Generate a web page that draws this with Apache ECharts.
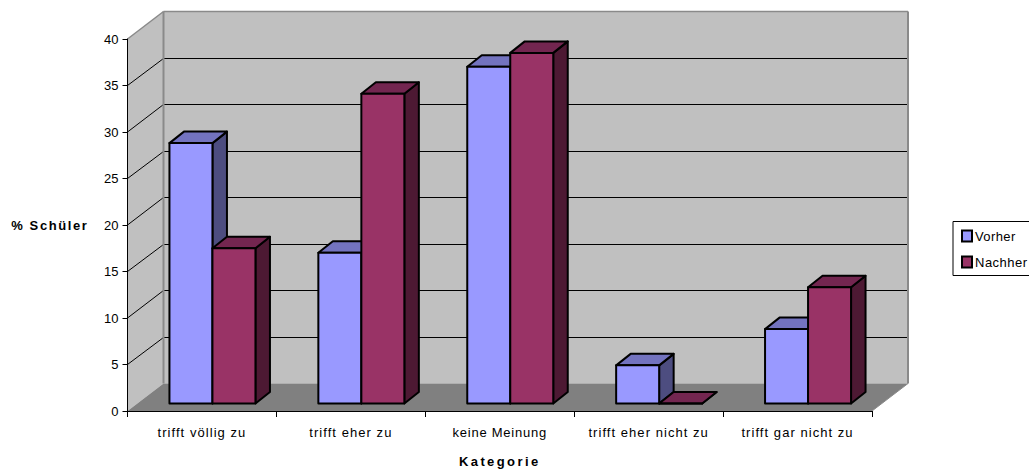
<!DOCTYPE html>
<html>
<head>
<meta charset="utf-8">
<style>
html, body { margin: 0; padding: 0; background: #fff; overflow: hidden; }
#chart { width: 1029px; height: 473px; }
</style>
<script src="https://cdn.jsdelivr.net/npm/echarts@6/dist/echarts.min.js"></script>
</head>
<body>
<div id="chart"></div>
<script>
const categories = ['trifft völlig zu', 'trifft eher zu', 'keine Meinung', 'trifft eher nicht zu', 'trifft gar nicht zu'];
const vorher = [28, 16.2, 36.2, 4.1, 8];
const nachher = [16.7, 33.3, 37.7, 0, 12.5];
const valueTicks = [0, 5, 10, 15, 20, 25, 30, 35, 40];

// Depth of the box around the plot, and of the columns inside it (pixels).
const BOX_DX = 36, BOX_DY = -27.5;
const BAR_SHIFT_X = 10.5, BAR_SHIFT_Y = -7.5;
const BAR_DX = 14.5, BAR_DY = -11.5;
const BAR_W = 43;

const chart = echarts.init(document.getElementById('chart'), null, { renderer: 'svg' });

function poly(points, fill, stroke, lineWidth) {
  return {
    type: 'polygon',
    shape: { points },
    style: { fill, stroke: stroke || 'none', lineWidth: lineWidth || 0, lineJoin: 'round' }
  };
}

function line(a, b, stroke, lineWidth) {
  return {
    type: 'line',
    shape: { x1: a[0], y1: a[1], x2: b[0], y2: b[1] },
    style: { stroke, lineWidth }
  };
}

// Keeps one-pixel rules on whole pixel rows.
function crisp(v) {
  return Math.round(v) + 0.5;
}

// Side wall, back wall, floor and the gridlines running across them.
function renderBox(params, api) {
  const band = api.size([1, 0])[0];
  const left = api.coord([0, 0])[0] - band / 2;
  const right = left + band * categories.length;
  const y0 = api.coord([0, valueTicks[0]])[1];
  const yTop = api.coord([0, valueTicks[valueTicks.length - 1]])[1];
  const wall = '#C0C0C0', floor = '#808080', edge = '#8A8A8A';
  const children = [
    poly([[left, yTop], [left + BOX_DX, yTop + BOX_DY], [left + BOX_DX, y0 + BOX_DY], [left, y0]], wall),
    poly([[left + BOX_DX, yTop + BOX_DY], [right + BOX_DX, yTop + BOX_DY], [right + BOX_DX, y0 + BOX_DY], [left + BOX_DX, y0 + BOX_DY]], wall),
    poly([[left, y0], [left + BOX_DX, y0 + BOX_DY], [right + BOX_DX, y0 + BOX_DY], [right, y0]], floor)
  ];
  valueTicks.slice(1, -1).forEach(function (t) {
    const y = api.coord([0, t])[1];
    const yb = crisp(y + BOX_DY - 0.5);
    children.push(line([left, y], [left + BOX_DX, yb], '#000', 1));
    children.push(line([left + BOX_DX, yb], [right + BOX_DX, yb], '#000', 1));
  });
  children.push(line([left, yTop], [left + BOX_DX, yTop + BOX_DY], edge, 1.5));
  children.push(line([left + BOX_DX, yTop + BOX_DY], [right + BOX_DX, yTop + BOX_DY], edge, 1.5));
  children.push(line([left + BOX_DX, yTop + BOX_DY], [left + BOX_DX, y0 + BOX_DY], edge, 2));
  children.push(line([right + BOX_DX, yTop + BOX_DY], [right + BOX_DX, y0 + BOX_DY], edge, 2));
  children.push(line([right, y0], [right + BOX_DX, y0 + BOX_DY], edge, 1));
  return { type: 'group', children };
}

// One extruded column: side, top and front faces.
function columnRenderer(slot, front, side, top) {
  return function (params, api) {
    const cat = api.value(0);
    const base = api.coord([cat, 0]);
    const head = api.coord([cat, api.value(1)]);
    const x0 = base[0] + BAR_SHIFT_X + (slot - 1) * BAR_W;
    const x1 = x0 + BAR_W;
    const yb = base[1] + BAR_SHIFT_Y;
    const yt = head[1] + BAR_SHIFT_Y;
    const ink = '#000';
    return {
      type: 'group',
      children: [
        poly([[x1, yt], [x1 + BAR_DX, yt + BAR_DY], [x1 + BAR_DX, yb + BAR_DY], [x1, yb]], side, ink, 2),
        poly([[x0, yt], [x0 + BAR_DX, yt + BAR_DY], [x1 + BAR_DX, yt + BAR_DY], [x1, yt]], top, ink, 2),
        poly([[x0, yt], [x1, yt], [x1, yb], [x0, yb]], front, ink, 2)
      ]
    };
  };
}

function columnSeries(name, values, slot, front, side, top) {
  return {
    name,
    type: 'custom',
    z: 2,
    silent: true,
    itemStyle: { color: front, borderColor: '#000', borderWidth: 2 },
    encode: { x: 0, y: 1 },
    data: values.map(function (v, i) { return [i, v]; }),
    renderItem: columnRenderer(slot, front, side, top)
  };
}

chart.setOption({
  animation: false,
  backgroundColor: '#fff',
  textStyle: { fontFamily: '"Liberation Sans", Arial, sans-serif', color: '#000' },
  grid: { left: 127.5, top: 39, width: 744.5, height: 372, outerBoundsMode: 'none' },
  legend: {
    data: ['Vorher', 'Nachher'],
    orient: 'vertical',
    left: 953,
    top: 221.5,
    padding: [8, 20, 7, 8],
    itemGap: 13,
    itemWidth: 10,
    itemHeight: 11,
    icon: 'rect',
    backgroundColor: '#fff',
    borderColor: '#000',
    borderWidth: 1,
    selectedMode: false,
    textStyle: { fontSize: 13, padding: [0, 0, 0, -2], color: '#000' }
  },
  xAxis: {
    type: 'category',
    data: categories,
    z: 3,
    name: 'Kategorie',
    nameLocation: 'middle',
    nameGap: 44,
    nameTextStyle: { fontSize: 13, fontWeight: 'bold', color: '#000' },
    axisLine: { lineStyle: { color: '#000', width: 1 } },
    axisTick: { show: true, alignWithLabel: false, length: 6, lineStyle: { color: '#000' } },
    axisLabel: { fontSize: 13, color: '#000', margin: 15 },
    splitLine: { show: false }
  },
  yAxis: {
    type: 'value',
    min: 0,
    max: 40,
    interval: 5,
    z: 3,
    name: '% Schüler',
    nameLocation: 'middle',
    nameRotate: 0,
    nameGap: 39,
    nameTextStyle: { fontSize: 13, fontWeight: 'bold', color: '#000' },
    axisLine: { show: true, lineStyle: { color: '#000', width: 1 } },
    axisTick: { show: true, length: 5, lineStyle: { color: '#000' } },
    axisLabel: { fontSize: 13, color: '#000', margin: 9 },
    splitLine: { show: false }
  },
  series: [
    {
      name: 'Box',
      type: 'custom',
      z: 1,
      silent: true,
      encode: { x: 0, y: 1 },
      data: [[0, 0]],
      renderItem: renderBox
    },
    columnSeries('Vorher', vorher, 0, '#9999FF', '#4D4D80', '#7373BF'),
    columnSeries('Nachher', nachher, 1, '#993366', '#4D1933', '#732650')
  ]
});

// Letter tracking on the captions that carry it.
const tracking = { 'trifft': '1.05px', 'keine': '0.75px', 'Kategorie': '2.4px', '% Schüler': '1.6px', 'Vorher': '0.4px', 'Nachher': '0.5px' };
document.querySelectorAll('#chart text').forEach(function (node) {
  const s = node.textContent;
  Object.keys(tracking).forEach(function (key) {
    if (s.indexOf(key) === 0) node.style.letterSpacing = tracking[key];
  });
});
</script>
</body>
</html>
